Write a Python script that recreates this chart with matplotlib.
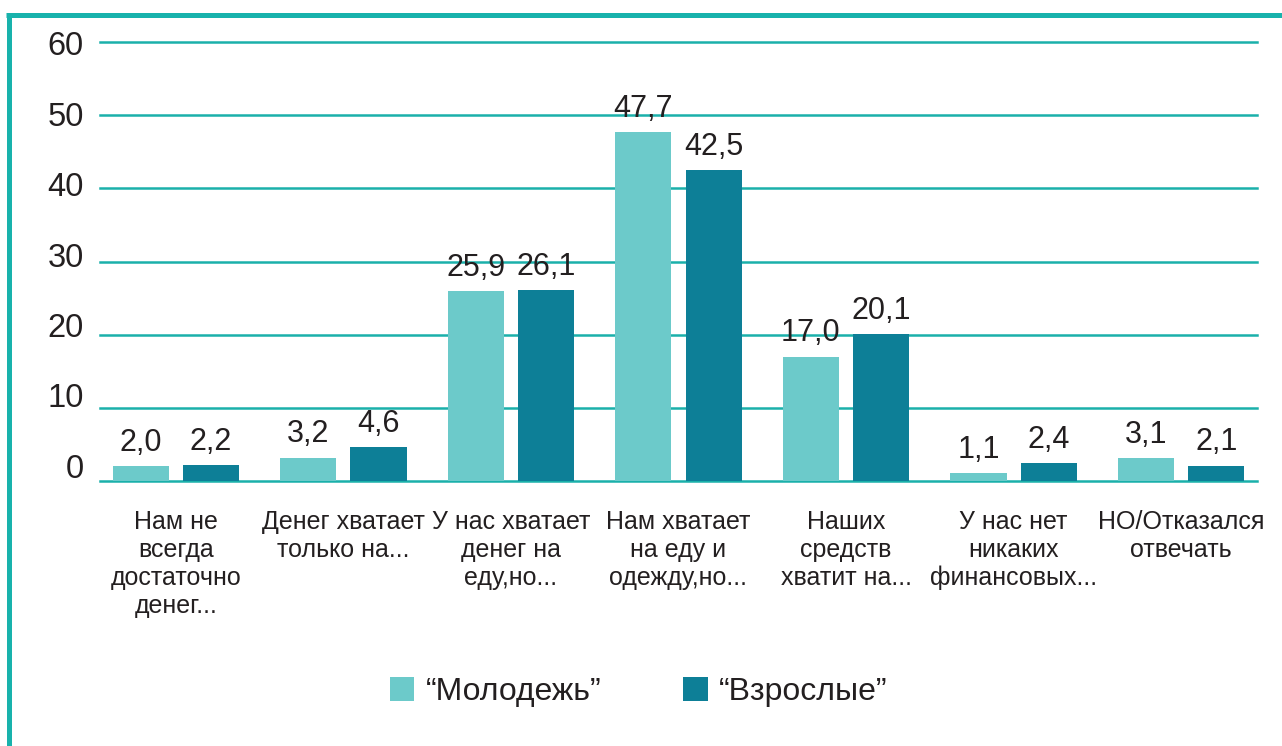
import matplotlib
matplotlib.use("Agg")
import matplotlib.pyplot as plt
from matplotlib.patches import Patch
from matplotlib.lines import Line2D
import numpy as np

categories = [
    "Нам не\nвсегда\nдостаточно\nденег...",
    "Денег хватает\nтолько на...",
    "У нас хватает\nденег на\nеду,но...",
    "Нам хватает\nна еду и\nодежду,но...",
    "Наших\nсредств\nхватит на...",
    "У нас нет\nникаких\nфинансовых...",
    "НО/Отказался\nотвечать",
]
series_names = ["\u201cМолодежь\u201d", "\u201cВзрослые\u201d"]
youth = [2.0, 3.2, 25.9, 47.7, 17.0, 1.1, 3.1]
adults = [2.2, 4.6, 26.1, 42.5, 20.1, 2.4, 2.1]
yticks = [0, 10, 20, 30, 40, 50, 60]

c_light = "#6CCACA"
c_dark = "#0D7F97"
c_grid = "#1AB0AA"
c_text = "#231F20"

plt.rcParams["font.family"] = ["Liberation Sans", "DejaVu Sans"]

W, H = 1282, 746
fig = plt.figure(figsize=(W / 100, H / 100), dpi=100)

# axes spanning pixel x 92..1265, y 42..481
ax = fig.add_axes([92 / W, 1 - 481 / H, (1265 - 92) / W, (481 - 42) / H])
ax.set_xlim(-0.5, len(categories) - 0.5)
ax.set_ylim(0, 60)
for s in ax.spines.values():
    s.set_visible(False)
ax.set_xticks([])
ax.set_yticks([])

# gridlines
gx0 = (100 - 92) / (1265 - 92)
gx1 = (1257 - 92) / (1265 - 92)
for v in yticks:
    ax.axhline(v, xmin=gx0, xmax=gx1, color=c_grid, lw=1.8, zorder=1, clip_on=False)

# y tick labels
for v in yticks:
    ypos = 1.6 + v * 0.962
    ax.text(-0.5 + (84 - 92) / 167.5, ypos, str(v), ha="right", va="center",
            fontsize=23.5, color=c_text, clip_on=False)

x = np.arange(len(categories))
w = 0.335
off = 0.21
b1 = ax.bar(x - off, youth, w, color=c_light, zorder=2)
b2 = ax.bar(x + off, adults, w, color=c_dark, zorder=2)

def fmt(v):
    return f"{v:.1f}".replace(".", ",")

for bars, vals in ((b1, youth), (b2, adults)):
    for b, v in zip(bars, vals):
        ax.annotate(fmt(v), (b.get_x() + b.get_width() / 2, v),
                    xytext=(0, 6), textcoords="offset points",
                    ha="center", va="bottom", fontsize=22, color=c_text)

# category labels
for i, lab in enumerate(categories):
    ax.annotate(lab, (i, 0), xytext=(0, -21), textcoords="offset points",
                ha="center", va="top", fontsize=18, color=c_text,
                linespacing=1.2, annotation_clip=False)

# legend
handles = [Patch(facecolor=c_light, edgecolor="none"),
           Patch(facecolor=c_dark, edgecolor="none")]
fig.legend(handles, series_names, loc="center", bbox_to_anchor=(0.498, 1 - 692 / H),
           ncol=2, frameon=False, fontsize=23, handlelength=0.78, handleheight=0.78,
           handletextpad=0.35, columnspacing=2.55, labelcolor=c_text)

# frame (top and left)
fig.add_artist(Line2D([6 / W, 1], [1 - 15 / H, 1 - 15 / H], color="#18B2AC",
                      lw=3.6, transform=fig.transFigure, solid_capstyle="butt"))
fig.add_artist(Line2D([8.5 / W, 8.5 / W], [1 - 13 / H, 0], color="#18B2AC",
                      lw=3.6, transform=fig.transFigure, solid_capstyle="butt"))

fig.savefig("out.png", dpi=100)
